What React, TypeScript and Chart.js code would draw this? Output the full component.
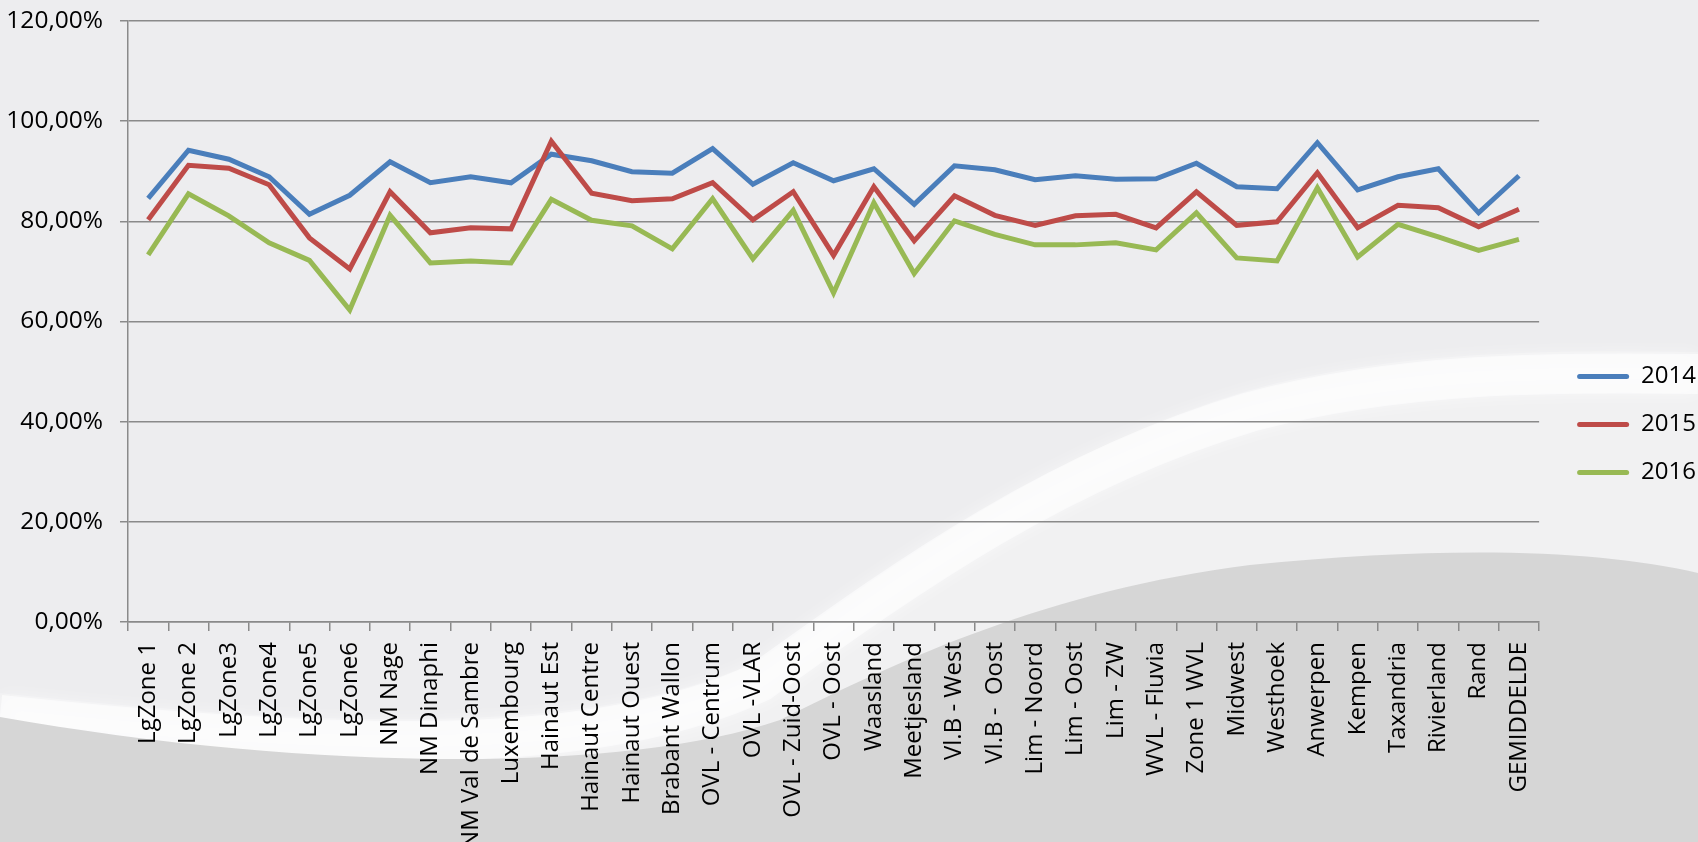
import React, { useEffect, useRef } from 'react';
import { Chart, registerables } from 'chart.js';

Chart.register(...registerables);

const categories = [
  'LgZone 1', 'LgZone 2', 'LgZone3', 'LgZone4', 'LgZone5', 'LgZone6',
  'NM Nage', 'NM Dinaphi', 'NM Val de Sambre', 'Luxembourg', 'Hainaut Est',
  'Hainaut Centre', 'Hainaut Ouest', 'Brabant Wallon', 'OVL - Centrum',
  'OVL -VLAR', 'OVL - Zuid-Oost', 'OVL - Oost', 'Waasland', 'Meetjesland',
  'Vl.B - West', 'Vl.B -  Oost', 'Lim - Noord', 'Lim - Oost', 'Lim - ZW',
  'WVL - Fluvia', 'Zone 1 WVL', 'Midwest', 'Westhoek', 'Anwerpen', 'Kempen',
  'Taxandria', 'Rivierland', 'Rand', 'GEMIDDELDE',
];

const seriesNames = ['2014', '2015', '2016'];

const values2014 = [
  84.6, 94.2, 92.4, 88.9, 81.4, 85.2, 91.9, 87.7, 88.9, 87.7, 93.4,
  92.1, 89.9, 89.6, 94.5, 87.4, 91.7, 88.1, 90.5, 83.4, 91.1, 90.3,
  88.3, 89.1, 88.4, 88.5, 91.6, 86.9, 86.5, 95.7, 86.3, 88.9, 90.5,
  81.7, 89.1,
];

const values2015 = [
  80.3, 91.2, 90.6, 87.3, 76.7, 70.5, 85.9, 77.7, 78.7, 78.5, 96.0,
  85.6, 84.1, 84.5, 87.7, 80.3, 85.9, 73.2, 86.9, 76.1, 85.1, 81.2,
  79.2, 81.1, 81.4, 78.7, 85.9, 79.2, 79.9, 89.7, 78.7, 83.2, 82.7,
  78.9, 82.4,
];

const values2016 = [
  73.3, 85.5, 81.1, 75.7, 72.2, 62.3, 81.2, 71.7, 72.1, 71.7, 84.4,
  80.2, 79.1, 74.5, 84.5, 72.5, 82.2, 65.7, 83.7, 69.6, 80.1, 77.4,
  75.3, 75.3, 75.7, 74.3, 81.7, 72.7, 72.1, 86.7, 72.9, 79.4, 76.9,
  74.2, 76.4,
];

const yTickValues = [0, 20, 40, 60, 80, 100, 120];

const seriesColors = ['#4A7EBB', '#BE4B48', '#98B954'];

const FONT_FAMILY = '"Open Sans", "DejaVu Sans", sans-serif';
const W = 1698;
const H = 842;

const backgroundPlugin = {
  id: 'bgDecor',
  beforeDraw(chart: any) {
    const { ctx, width, height } = chart;
    const sx = width / W;
    const sy = height / H;
    ctx.save();
    ctx.scale(sx, sy);
    ctx.fillStyle = '#EDEDEF';
    ctx.fillRect(0, 0, W, H);

    const swooshTop = (c: any) => {
      c.moveTo(0, 693);
      c.bezierCurveTo(350, 730, 600, 735, 760, 660);
      c.bezierCurveTo(900, 560, 1050, 450, 1250, 390);
      c.bezierCurveTo(1400, 350, 1550, 350, 1698, 352);
    };
    ctx.beginPath();
    swooshTop(ctx);
    ctx.lineTo(1698, 842);
    ctx.lineTo(0, 842);
    ctx.closePath();
    ctx.fillStyle = 'rgba(255,255,255,0.22)';
    ctx.fill();

    ctx.save();
    ctx.translate(0, 22);
    ctx.beginPath();
    swooshTop(ctx);
    ctx.strokeStyle = 'rgba(255,255,255,0.55)';
    ctx.lineWidth = 40;
    ctx.shadowColor = 'rgba(255,255,255,0.9)';
    ctx.shadowBlur = 18;
    ctx.stroke();
    ctx.restore();

    ctx.beginPath();
    ctx.moveTo(0, 717);
    ctx.bezierCurveTo(300, 770, 620, 775, 780, 720);
    ctx.bezierCurveTo(900, 660, 1050, 590, 1250, 565);
    ctx.bezierCurveTo(1450, 545, 1600, 550, 1698, 573);
    ctx.lineTo(1698, 842);
    ctx.lineTo(0, 842);
    ctx.closePath();
    ctx.fillStyle = '#D6D6D6';
    ctx.fill();
    ctx.restore();
  },
};

const legendNudgePlugin = {
  id: 'legendNudge',
  afterLayout(chart: any) {
    const lg = chart.legend;
    if (lg) {
      lg.left += 14;
      lg.right += 14;
      lg.top -= 7;
      lg.bottom -= 7;
    }
  },
};

export default function App() {
  const canvasRef = useRef<HTMLCanvasElement | null>(null);

  useEffect(() => {
    document.body.style.margin = '0';
    const canvas = canvasRef.current;
    if (!canvas) return;

    const seriesValues = [values2014, values2015, values2016];
    const chart = new Chart(canvas, {
      type: 'line',
      data: {
        labels: categories,
        datasets: seriesNames.map((name, i) => ({
          label: name,
          data: seriesValues[i],
          borderColor: seriesColors[i],
          backgroundColor: seriesColors[i],
          borderWidth: 5,
          pointRadius: 0,
          pointHoverRadius: 0,
          tension: 0,
          fill: false,
          order: 3 - i,
        })),
      },
      options: {
        responsive: false,
        animation: false,
        devicePixelRatio: 1,
        layout: { padding: { top: 21, right: 6, left: 0, bottom: 0 } },
        plugins: {
          tooltip: { enabled: false },
          legend: {
            position: 'right',
            align: 'center',
            labels: {
              boxWidth: 52,
              boxHeight: 5,
              padding: 24,
              color: '#000000',
              font: { family: FONT_FAMILY, size: 24 },
              useBorderRadius: true,
              borderRadius: 2.5,
              sort: (a: any, b: any) => a.datasetIndex - b.datasetIndex,
              generateLabels: (ch: any) =>
                (Chart.defaults.plugins.legend.labels as any)
                  .generateLabels(ch)
                  .map((l: any) => ({ ...l, lineWidth: 0, fillStyle: l.strokeStyle })),
            },
          },
        },
        scales: {
          x: {
            type: 'category',
            offset: true,
            grid: {
              offset: true,
              drawOnChartArea: false,
              drawTicks: true,
              tickLength: 9,
              color: '#8A8A8A',
              lineWidth: 1.5,
            },
            border: { color: '#8A8A8A', width: 1.5 },
            ticks: {
              autoSkip: false,
              maxRotation: 90,
              minRotation: 90,
              padding: 11,
              color: '#000000',
              font: { family: FONT_FAMILY, size: 24 },
            },
            afterFit: (s: any) => {
              s.height = 220;
              s.paddingLeft = 0;
              s.paddingRight = 0;
            },
          },
          y: {
            min: 0,
            max: 120,
            grid: {
              color: '#8A8A8A',
              lineWidth: 1.5,
              drawTicks: true,
              tickLength: 8,
            },
            border: { color: '#8A8A8A', width: 1.5 },
            afterBuildTicks: (s: any) => {
              s.ticks = yTickValues.map((v) => ({ value: v }));
            },
            ticks: {
              padding: 17,
              color: '#000000',
              font: { family: FONT_FAMILY, size: 24.5 },
              callback: (v: any) => Number(v).toFixed(2).replace('.', ',') + '%',
            },
            afterFit: (s: any) => {
              s.width = 128;
              s.paddingTop = 0;
              s.paddingBottom = 0;
            },
          },
        },
      },
      plugins: [backgroundPlugin, legendNudgePlugin],
    } as any);

    return () => {
      chart.destroy();
    };
  }, []);

  return (
    <div style={{ width: W, height: H, overflow: 'hidden' }}>
      <canvas ref={canvasRef} width={W} height={H} style={{ display: 'block' }} />
    </div>
  );
}
